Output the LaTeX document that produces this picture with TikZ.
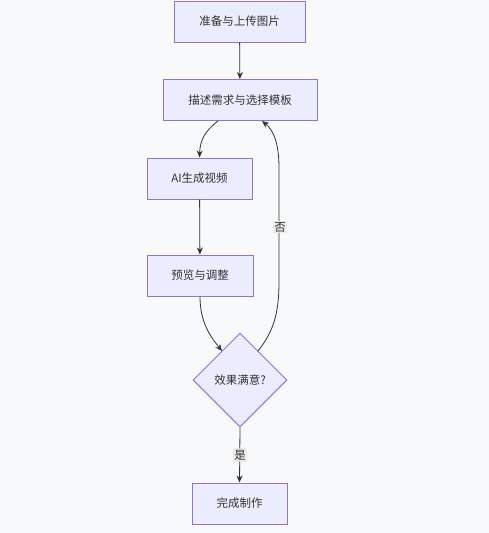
\documentclass[tikz,border=0pt]{standalone}
\usepackage{fontspec}
\setmainfont{Noto Sans CJK SC}
\usetikzlibrary{arrows.meta,shapes.geometric}
\definecolor{bgc}{HTML}{F8F9FA}
\definecolor{boxfill}{HTML}{ECECFF}
\definecolor{boxline}{HTML}{9370DB}
\definecolor{ink}{HTML}{333333}
\definecolor{lblbg}{HTML}{E8E8E8}

\begin{document}
\begin{tikzpicture}[x=1pt,y=-1pt,font=\fontsize{11.5}{13}\selectfont,text=ink,
  box/.style={draw=boxline,fill=boxfill,line width=1pt,minimum height=41pt,inner sep=0pt},
  choice/.style={diamond,draw=boxline,fill=boxfill,line width=1pt,minimum width=94pt,minimum height=94pt,inner sep=0pt},
  link/.style={draw=ink,line width=0.8pt,-{Stealth[length=7pt,width=6pt]}},
  lbl/.style={fill=lblbg,fill opacity=0.8,text opacity=1,inner sep=1.5pt}]
\fill[bgc] (0,0) rectangle (489,533);
\useasboundingbox (0,0) rectangle (489,533);
\node[box,minimum width=131pt] (upload) at (239.5,21.5) {准备与上传图片};
\node[box,minimum width=154pt] (prompt) at (240,100) {描述需求与选择模板};
\node[box,minimum width=105pt] (gen) at (199.5,178.5) {AI生成视频};
\node[box,minimum width=106pt] (tune) at (200,275.5) {预览与调整};
\node[choice] (ok) at (240,380) {效果满意?};
\node[box,minimum width=95pt] (done) at (239.5,503.5) {完成制作};
% edges
\draw[link] (upload) -- (prompt);
\draw[link] ([xshift=-22pt]prompt.south) .. controls (205,131) and (200,140) .. (gen.north);
\draw[link] (gen) -- (tune);
\draw[link] (tune.south) .. controls (200,322) and (210,336) .. (222,351);
\draw[link] (258,351) .. controls (274,331) and (279,312) .. (279,282)
  -- (279,168) .. controls (279,140) and (272,129) .. ([xshift=22pt]prompt.south);
\node[lbl] (no) at (280,227) {否};
\draw[link] (ok.south) -- (done.north);
\node[lbl] (yes) at (240,455) {是};
\end{tikzpicture}
\end{document}
